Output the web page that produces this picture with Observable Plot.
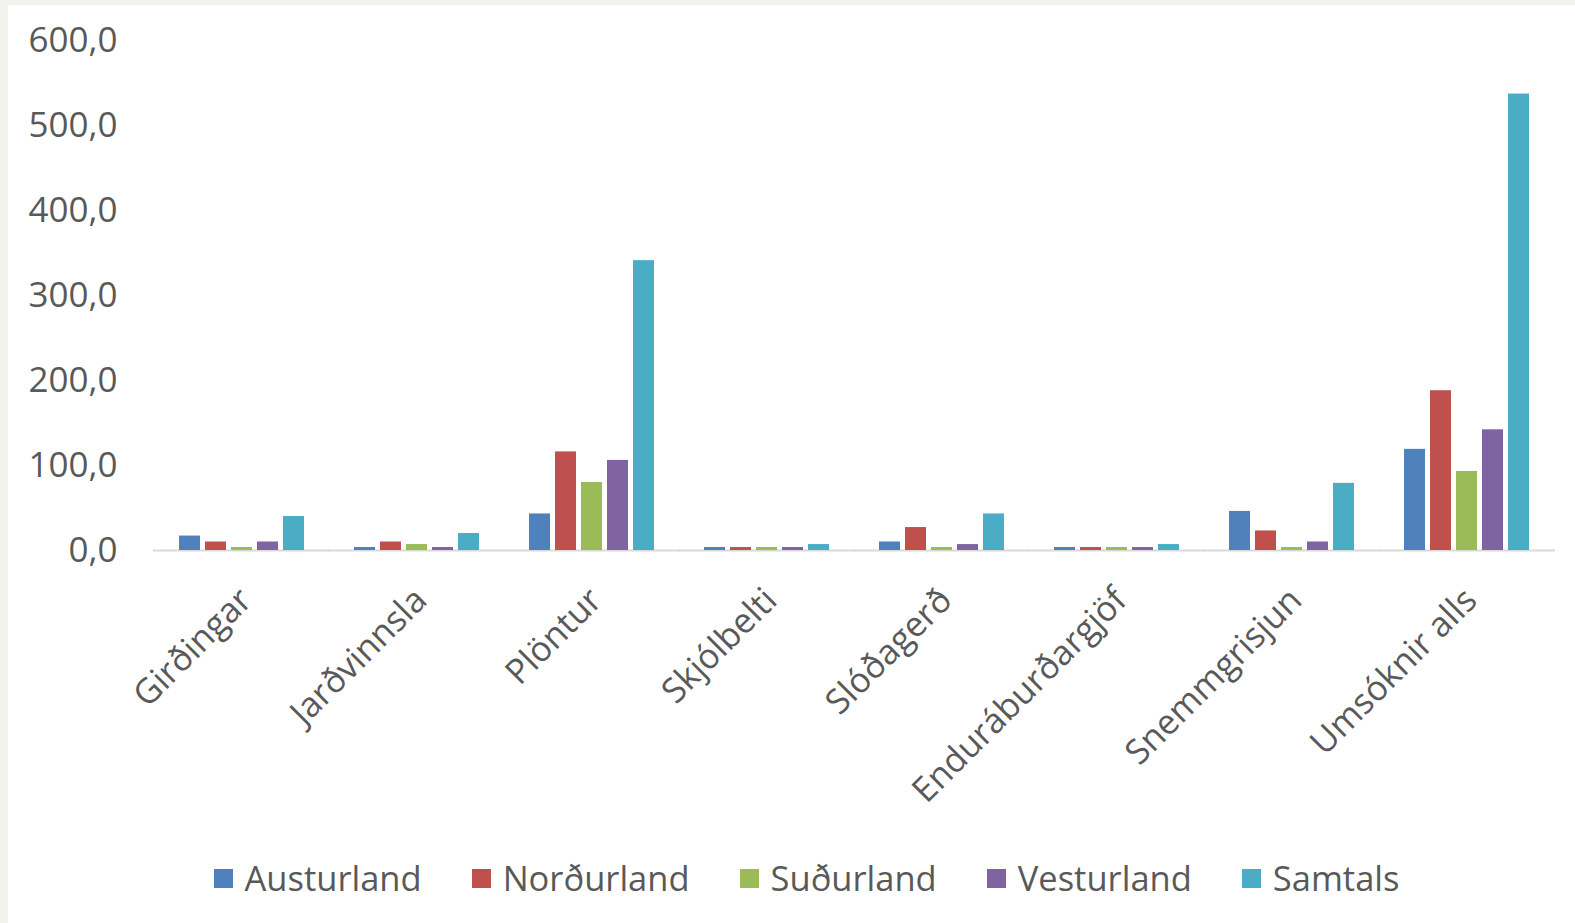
<!DOCTYPE html>
<html>
<head>
<meta charset="utf-8">
<script src="https://cdn.jsdelivr.net/npm/d3@7"></script>
<script src="https://cdn.jsdelivr.net/npm/@observablehq/plot@0.6"></script>
<style>
  html, body { margin: 0; padding: 0; background: #f2f2ee; overflow: hidden; width: 1575px; height: 923px; }
  #card { position: fixed; left: 8px; top: 5px; right: 0; bottom: 0; background: #fff; overflow: hidden; }
  #chart svg { display: block; }
  #legend { position: absolute; top: 851px; left: 0; width: 1567px; display: flex; justify-content: center;
    font-family: "Open Sans", sans-serif; font-size: 34.5px; line-height: 44px; color: #595959; padding-left: 30px; box-sizing: border-box; }
  .item { display: flex; align-items: center; margin: 0 25px; }
  .sw { width: 19px; height: 19px; margin-right: 12px; }
</style>
</head>
<body>
<div id="card">
  <div id="chart"></div>
  <div id="legend"></div>
</div>
<script>
const categories = ["Girðingar","Jarðvinnsla","Plöntur","Skjólbelti","Slóðagerð","Enduráburðargjöf","Snemmgrisjun","Umsóknir alls"];
const series = ["Austurland","Norðurland","Suðurland","Vesturland","Samtals"];
const colors = ["#4f81bd","#c0504d","#9bbb59","#8064a2","#4bacc6"];
const austurland = [17, 3.5, 43, 3.5, 10, 3.5, 46, 119];
const nordurland = [10, 10, 116, 3.5, 27, 3.5, 23, 188];
const sudurland  = [3.5, 7, 80, 3.5, 3.5, 3.5, 3.5, 93];
const vesturland = [10, 3.5, 106, 3.5, 7, 3.5, 10, 142];
const samtals    = [40, 20, 341, 7, 43, 7, 79, 537];
const yTicks = [0, 100, 200, 300, 400, 500, 600];

const valuesBySeries = [austurland, nordurland, sudurland, vesturland, samtals];
const data = [];
categories.forEach((c, i) => series.forEach((s, j) => data.push({category: c, series: s, value: valuesBySeries[j][i]})));

const chart = Plot.plot({
  width: 1567,
  height: 830,
  marginLeft: 145,
  marginRight: 20,
  marginTop: 35,
  marginBottom: 285,
  style: {fontFamily: "'Open Sans', sans-serif", fontSize: "35px", color: "#595959", background: "transparent"},
  fx: {domain: categories, paddingInner: 0.263, paddingOuter: 0.137, axis: null, label: null},
  x: {domain: series, paddingInner: 0.18, paddingOuter: 0, axis: null},
  y: {domain: [0, 600], ticks: yTicks, tickFormat: d => d.toFixed(1).replace(".", ","), tickSize: 0, tickPadding: 60, label: null},
  color: {domain: series, range: colors},
  marks: [
    Plot.ruleY([0], {stroke: "#d9d9d9", strokeWidth: 2, insetLeft: -24, insetRight: -24}),
    Plot.barY(data, {fx: "category", x: "series", y: "value", fill: "series"}),
    Plot.text(categories, {fx: d => d, text: d => d, frameAnchor: "bottom", rotate: -45, textAnchor: "end",
      lineAnchor: "middle", dx: 4, dy: 44, fontSize: 34.5, fill: "#595959"})
  ]
});
document.getElementById("chart").appendChild(chart);

const legend = document.getElementById("legend");
series.forEach((s, i) => {
  const item = document.createElement("div");
  item.className = "item";
  const sw = document.createElement("span");
  sw.className = "sw";
  sw.style.background = colors[i];
  const label = document.createElement("span");
  label.textContent = s;
  item.appendChild(sw);
  item.appendChild(label);
  legend.appendChild(item);
});
</script>
</body>
</html>
